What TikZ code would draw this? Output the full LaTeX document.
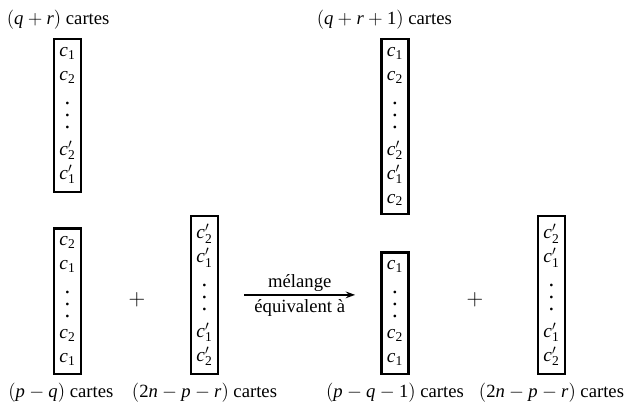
\documentclass[tikz,border=0pt]{standalone}
\usepackage{mathspec}
\setmainfont{Liberation Serif}
\setmathsfont(Digits,Latin)[Lowercase=Italic,Uppercase=Italic]{Liberation Serif}
\usetikzlibrary{positioning, arrows.meta}

\newcommand{\vpoints}{\vtop{\fontsize{17}{9}\selectfont\baselineskip9pt\lineskiplimit0pt\hbox{.}\hbox{.}\hbox{.}}\\[8pt]}

\begin{document}
\begin{tikzpicture}[
        x=0.75pt, y=-0.75pt,
        node distance=6pt,
        pile/.style={draw, line width=1.8pt, minimum width=20pt, inner xsep=2.5pt, inner ysep=6pt, align=center, font=\fontsize{14.5}{18}\selectfont},
        lbl/.style={font=\fontsize{14}{16}\selectfont, inner sep=0pt},
        arrow/.style={-{Stealth[length=7pt, width=5pt]}, line width=1.3pt}
    ]
        \useasboundingbox (0,0) rectangle (629,406);

        % Before
        \node (p1) [pile, anchor=north] at (67.5,38) {$c_1$\\ $c_2$\\ \vpoints $c'_2$\\ $c'_1$};
        \node (p2) [pile, anchor=south] at (67.5,375) {$c_2$\\ $c_1$\\ \vpoints $c_2$\\ $c_1$};
        \node (p3) [pile, anchor=south] at (204.5,375) {$c'_2$\\ $c'_1$\\ \vpoints $c'_1$\\ $c'_2$};
        \node (plus1) [lbl, font=\fontsize{17}{17}\selectfont] at (137,300) {$+$};

        % After
        \node (p4) [pile, anchor=north] at (395,38) {$c_1$\\ $c_2$\\ \vpoints $c'_2$\\ $c'_1$\\ $c_2$};
        \node (p5) [pile, anchor=south] at (395,375) {$c_1$\\ \vpoints $c_2$\\ $c_1$};
        \node (p6) [pile, anchor=south] at (551.5,375) {$c'_2$\\ $c'_1$\\ \vpoints $c'_1$\\ $c'_2$};
        \node (plus2) [lbl, font=\fontsize{17}{17}\selectfont] at (475,300) {$+$};

        % Labels
        \node (t1) [lbl, above=of p1, xshift=-7pt] {$(q+r)$ cartes};
        \node (t4) [lbl, above=of p4, xshift=-8pt] {$(q+r+1)$ cartes};
        \node (b2) [lbl, below=of p2, xshift=-5pt] {$(p-q)$ cartes};
        \node (b3) [lbl, below=of p3] {$(2n-p-r)$ cartes};
        \node (b5) [lbl, below=of p5] {$(p-q-1)$ cartes};
        \node (b6) [lbl, below=of p6] {$(2n-p-r)$ cartes};

        % Arrow
        \draw [arrow, shorten <=19pt, shorten >=19pt] (p3.east) -- (p3.east -| p5.west)
            node[midway, above, lbl, yshift=2pt] {mélange}
            node[midway, below, lbl, yshift=-3pt] {équivalent à};
    \end{tikzpicture}
\end{document}
